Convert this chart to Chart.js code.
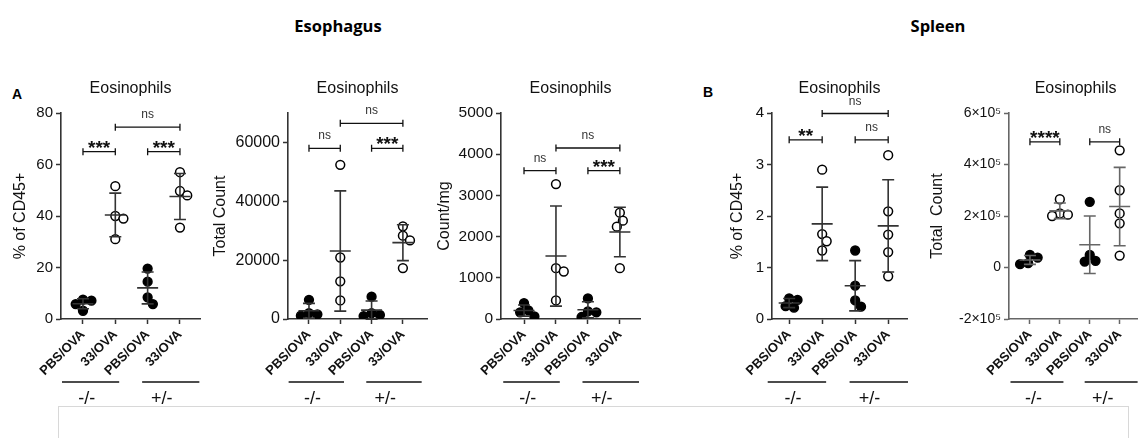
<!DOCTYPE html>
<html>
<head>
<meta charset="utf-8">
<script src="https://cdn.jsdelivr.net/npm/chart.js@4.4.0/dist/chart.umd.min.js"></script>
<style>
  html, body { margin: 0; padding: 0; background: #fff; overflow: hidden; }
  body { width: 1138px; height: 438px; position: relative; }
  canvas { position: absolute; }
  .hdr { position: absolute; top: 14px; font: 700 16.5px "Open Sans", sans-serif; color: #000; transform: translateX(-50%); }
  .tag { position: absolute; font: 700 14px "Liberation Sans", Arial, sans-serif; line-height: 14px; color: #000; }
  .box { position: absolute; left: 58px; top: 406px; width: 1069px; height: 60px; border: 1px solid #d8d8d8; }
</style>
</head>
<body>
<div class="hdr" style="left:338px">Esophagus</div>
<div class="hdr" style="left:938px">Spleen</div>
<div class="tag" style="left:12px;top:87px">A</div>
<div class="tag" style="left:703px;top:85px">B</div>
<div class="box"></div>
<canvas id="c1"></canvas>
<canvas id="c2"></canvas>
<canvas id="c3"></canvas>
<canvas id="c4"></canvas>
<canvas id="c5"></canvas>
<script>
Chart.defaults.font.family = '"Liberation Sans", Arial, Helvetica, sans-serif';
Chart.defaults.color = '#111';

const categories = ['PBS/OVA', '33/OVA', 'PBS/OVA', '33/OVA'];
const genotypes = ['-/-', '+/-'];
const genotypeCols = [[0, 1], [2, 3]];
const panelTitle = 'Eosinophils';

// esophagus, % of CD45+ (one list per column)
const esoPercent = [
  [7.5, 7.1, 5.8, 3.2],
  [51.6, 40, 39, 31],
  [19.6, 14.5, 8.4, 5.8],
  [57, 49.7, 48, 35.5]
];
const esoPercentTicks = [0, 20, 40, 60, 80];
const esoPercentSig = [[0, 1, 65, '***'], [2, 3, 65, '***'], [1, 3, 74.5, 'ns']];

// esophagus, total count
const esoCount = [
  [6500, 2000, 1600, 1100],
  [52400, 20900, 12800, 6300],
  [7600, 2000, 1400, 1000],
  [31500, 28300, 26700, 17300]
];
const esoCountTicks = [0, 20000, 40000, 60000];
const esoCountSig = [[0, 1, 58000, 'ns'], [2, 3, 58000, '***'], [1, 3, 66500, 'ns']];

// esophagus, count/mg
const esoPerMg = [
  [387, 210, 161, 65],
  [3274, 1234, 1153, 452],
  [500, 185, 161, 48],
  [2580, 2387, 2242, 1234]
];
const esoPerMgTicks = [0, 1000, 2000, 3000, 4000, 5000];
const esoPerMgSig = [[0, 1, 3600, 'ns'], [2, 3, 3600, '***'], [1, 3, 4150, 'ns']];

// spleen, % of CD45+
const splPercent = [
  [0.4, 0.37, 0.25, 0.22],
  [2.9, 1.65, 1.51, 1.33],
  [1.33, 0.65, 0.36, 0.24],
  [3.18, 2.09, 1.64, 1.3, 0.83]
];
const splPercentTicks = [0, 1, 2, 3, 4];
const splPercentSig = [[0, 1, 3.48, '**'], [2, 3, 3.48, 'ns'], [1, 3, 3.99, 'ns']];

// spleen, total count
const splCount = [
  [49000, 38700, 16800, 12900],
  [265000, 210000, 205000, 200000],
  [255000, 49000, 25800, 23200],
  [455000, 300000, 210000, 171600, 46500]
];
const splCountTicks = [-200000, 0, 200000, 400000, 600000];
const splCountTickLabels = ['-2×10⁵', '0', '2×10⁵', '4×10⁵', '6×10⁵'];
const splCountSig = [[0, 1, 488000, '****'], [2, 3, 488000, 'ns']];

const mean = a => a.reduce((s, v) => s + v, 0) / a.length;
const sd = a => { const m = mean(a); return Math.sqrt(a.reduce((s, v) => s + (v - m) * (v - m), 0) / (a.length - 1)); };

// simple beeswarm so overlapping dots get pushed sideways
function swarm(vals, pxY, pxX) {
  const D = 8.5;
  const placed = [];
  const out = new Array(vals.length);
  const order = vals.map((v, i) => i).sort((a, b) => vals[b] - vals[a]);
  order.forEach(i => {
    const yp = vals[i] * pxY;
    const cands = [0], blocks = [];
    placed.forEach(p => {
      const dy = Math.abs(p.y - yp);
      if (dy < D) {
        const w = Math.sqrt(D * D - dy * dy);
        blocks.push([p.x - w, p.x + w]);
        cands.push(p.x + w, p.x - w);
      }
    });
    cands.sort((a, b) => Math.abs(a) - Math.abs(b));
    const xp = cands.find(c => blocks.every(b => c <= b[0] + 1e-6 || c >= b[1] - 1e-6));
    placed.push({ x: xp, y: yp });
    out[i] = xp / pxX;
  });
  return out;
}

function decor(p) {
  return {
    id: 'decor',
    afterDatasetsDraw(chart) {
      const { ctx, scales: { x, y } } = chart;
      ctx.save();
      ctx.strokeStyle = p.ink;
      ctx.lineWidth = 1.6;
      p.groups.forEach((vals, i) => {
        const m = mean(vals), s = sd(vals);
        const px = x.getPixelForValue(i);
        const ym = y.getPixelForValue(m), yt = y.getPixelForValue(m + s), yb = y.getPixelForValue(m - s);
        ctx.beginPath();
        ctx.moveTo(px - 10.5, ym); ctx.lineTo(px + 10.5, ym);
        ctx.moveTo(px, yt); ctx.lineTo(px, yb);
        ctx.moveTo(px - 6, yt); ctx.lineTo(px + 6, yt);
        ctx.moveTo(px - 6, yb); ctx.lineTo(px + 6, yb);
        ctx.stroke();
      });
      ctx.restore();
    },
    afterDraw(chart) {
      const { ctx, chartArea: a, scales: { x, y } } = chart;
      ctx.save();
      ctx.fillStyle = '#111';
      ctx.textAlign = 'center';
      ctx.textBaseline = 'middle';
      ctx.font = '16px "Liberation Sans", Arial, sans-serif';
      ctx.fillText(panelTitle, (a.left + a.right) / 2, a.top - 24);

      // significance brackets
      ctx.strokeStyle = '#111';
      ctx.lineWidth = 1.3;
      p.sig.forEach(([i, j, v, label]) => {
        const x1 = x.getPixelForValue(i), x2 = x.getPixelForValue(j), yy = y.getPixelForValue(v);
        ctx.beginPath();
        ctx.moveTo(x1, yy); ctx.lineTo(x2, yy);
        ctx.moveTo(x1, yy - 3.5); ctx.lineTo(x1, yy + 3.5);
        ctx.moveTo(x2, yy - 3.5); ctx.lineTo(x2, yy + 3.5);
        ctx.stroke();
        ctx.textBaseline = 'alphabetic';
        if (label === 'ns') {
          ctx.fillStyle = '#333';
          ctx.font = '12px "Liberation Sans", Arial, sans-serif';
          ctx.fillText(label, (x1 + x2) / 2, yy - 9);
        } else {
          ctx.fillStyle = '#111';
          ctx.font = 'bold 19px "Liberation Sans", Arial, sans-serif';
          ctx.fillText(label, (x1 + x2) / 2, yy + 2);
        }
      });

      // genotype underlines
      ctx.fillStyle = '#111';
      ctx.textBaseline = 'middle';
      ctx.font = '18px "Liberation Sans", Arial, sans-serif';
      ctx.lineWidth = 1.3;
      const pads = [[-0.65, 0.12, -0.12], [-0.17, 0.6, -0.28]];
      genotypes.forEach((g, k) => {
        const cols = genotypeCols[k];
        const x1 = x.getPixelForValue(cols[0] + pads[k][0]);
        const x2 = x.getPixelForValue(cols[1] + pads[k][1]);
        const xl = x.getPixelForValue((cols[0] + pads[k][0] + cols[1] + pads[k][1]) / 2 + pads[k][2]);
        ctx.beginPath();
        ctx.moveTo(x1, a.bottom + 63); ctx.lineTo(x2, a.bottom + 63);
        ctx.stroke();
        ctx.fillText(g, xl, a.bottom + 80);
      });
      ctx.restore();
    }
  };
}

function makePanel(id, p) {
  const canvas = document.getElementById(id);
  const plotW = Math.round((p.xMax - p.xMin) * p.step);
  canvas.width = p.yWidth + plotW + p.padR;
  canvas.height = 340;
  canvas.style.left = p.left + 'px';
  canvas.style.top = '70px';
  const pxY = 206 / (p.yMax - p.yMin);

  const datasets = p.groups.map((vals, g) => {
    const off = swarm(vals, pxY, p.step);
    const filled = g % 2 === 0;
    return {
      data: vals.map((v, k) => ({ x: g + off[k], y: v })),
      pointRadius: 4.4,
      pointBorderWidth: 1.5,
      pointBackgroundColor: filled ? '#000' : '#fff',
      pointBorderColor: '#000',
      showLine: false
    };
  });

  new Chart(canvas, {
    type: 'scatter',
    data: { datasets },
    options: {
      responsive: false,
      animation: false,
      events: [],
      layout: { padding: { top: 43, right: p.padR, left: 0, bottom: 4 } },
      plugins: { legend: { display: false }, tooltip: { enabled: false } },
      scales: {
        x: {
          type: 'linear',
          min: p.xMin,
          max: p.xMax,
          afterBuildTicks: s => { s.ticks = categories.map((c, i) => ({ value: i })); },
          afterFit: s => { s.height = 87; },
          grid: { drawOnChartArea: false, drawTicks: true, tickLength: 5, tickColor: p.ink, tickWidth: 1.5 },
          border: { color: p.ink, width: 1.6 },
          ticks: {
            autoSkip: false, minRotation: 45, maxRotation: 45, padding: 3, color: '#111',
            font: { size: 13, weight: 'bold' },
            callback: (v, i) => categories[i]
          }
        },
        y: {
          min: p.yMin,
          max: p.yMax,
          afterBuildTicks: s => { s.ticks = p.ticks.map(v => ({ value: v })); },
          afterFit: s => { s.width = p.yWidth; },
          grid: { drawOnChartArea: false, drawTicks: true, tickLength: 5, tickColor: p.ink, tickWidth: 1.5 },
          border: { color: p.ink, width: 1.6 },
          ticks: {
            padding: 3, color: '#111', font: { size: p.tickSize },
            callback: (v, i) => p.tickLabels ? p.tickLabels[i] : String(v)
          },
          title: { display: true, text: p.yTitle, color: '#111', font: { size: 16 }, padding: 0 }
        }
      }
    },
    plugins: [decor(p)]
  });
}

makePanel('c1', { groups: esoPercent, ticks: esoPercentTicks, sig: esoPercentSig, yTitle: '% of CD45+',
  yMin: 0, yMax: 80, left: 11, yWidth: 50, step: 32.3, xMin: -0.68, xMax: 3.62, padR: 10, tickSize: 15, ink: '#333' });
makePanel('c2', { groups: esoCount, ticks: esoCountTicks, sig: esoCountSig, yTitle: 'Total Count',
  yMin: 0, yMax: 70000, left: 211, yWidth: 77, step: 31.3, xMin: -0.67, xMax: 3.77, padR: 8, tickSize: 16, ink: '#333' });
makePanel('c3', { groups: esoPerMg, ticks: esoPerMgTicks, sig: esoPerMgSig, yTitle: 'Count/mg',
  yMin: 0, yMax: 5000, left: 435, yWidth: 66, step: 32, xMin: -0.72, xMax: 3.63, padR: 10, tickSize: 15.5, ink: '#333' });
makePanel('c4', { groups: splPercent, ticks: splPercentTicks, sig: splPercentSig, yTitle: '% of CD45+',
  yMin: 0, yMax: 4, left: 728, yWidth: 44, step: 33, xMin: -0.52, xMax: 3.57, padR: 10, tickSize: 15, ink: '#333' });
makePanel('c5', { groups: splCount, ticks: splCountTicks, tickLabels: splCountTickLabels, sig: splCountSig, yTitle: 'Total  Count',
  yMin: -200000, yMax: 600000, left: 928, yWidth: 81, step: 31.3, xMin: -0.70, xMax: 3.75, padR: 0, tickSize: 14, ink: '#666' });
</script>
</body>
</html>
